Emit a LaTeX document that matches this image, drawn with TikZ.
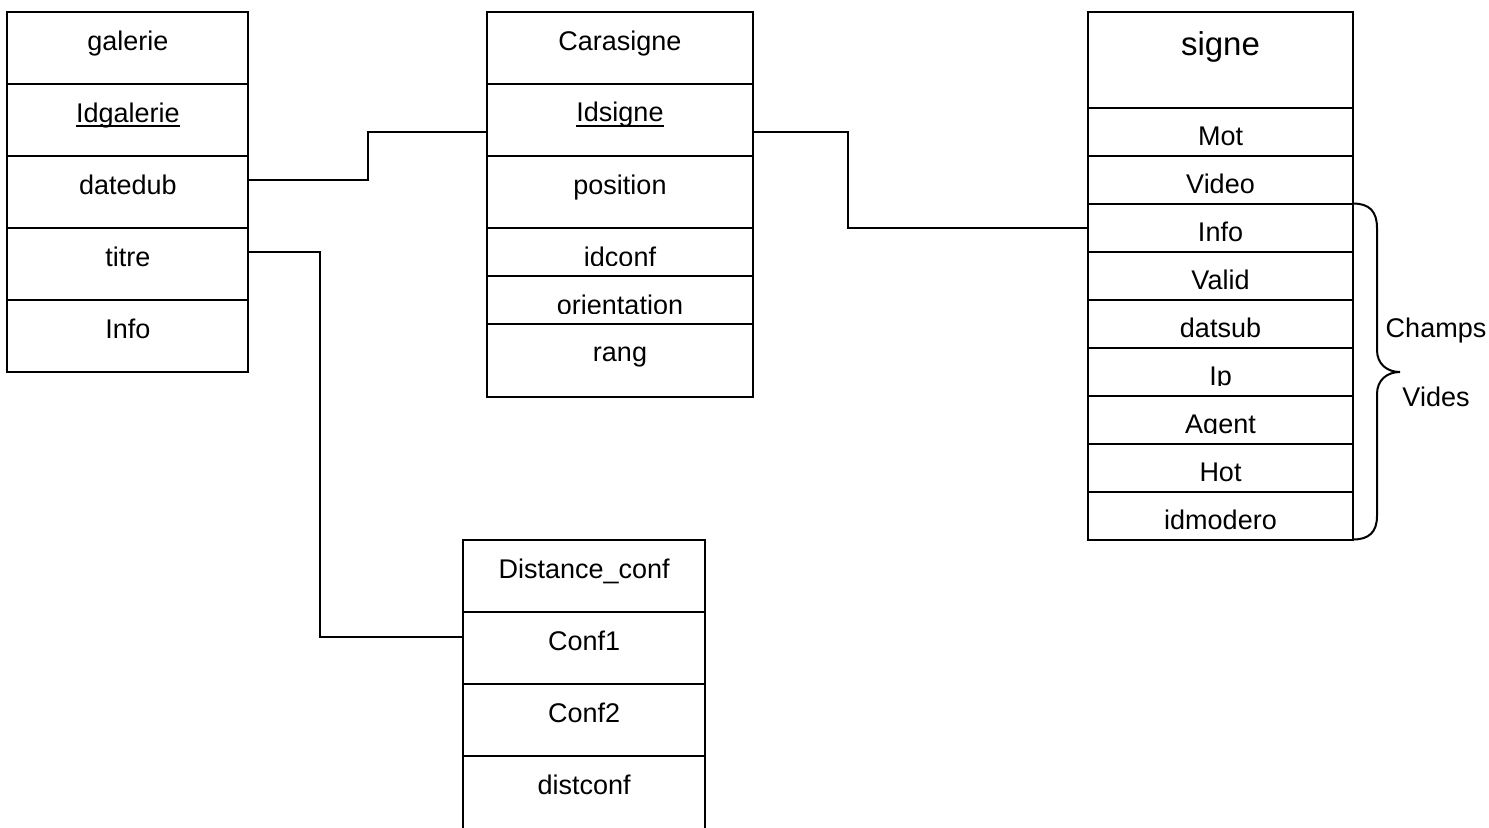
\documentclass[tikz,border=0pt]{standalone}
\usepackage{fontspec}
\setmainfont{Liberation Sans}
\usetikzlibrary{calc}

\tikzset{
  cellbox/.style={draw, line width=1pt, rectangle, inner sep=0pt, outer sep=0pt},
  celltext/.style={anchor=base, inner sep=0pt, font=\fontsize{13.5}{16}\selectfont},
  link/.style={draw, line width=1pt},
  bracepath/.style={draw, line width=1pt},
  note/.style={anchor=base, inner sep=0pt, font=\fontsize{13.5}{16}\selectfont},
}

% key attribute: text with a thin rule just under the baseline
\newcommand\keyname[1]{\setbox0\hbox{#1}\rlap{\rule[-2.6pt]{\wd0}{0.9pt}}\box0}

% table cell: [baseline offset]{name}{x}{top}{width}{height}{text}
% the text is clipped 10.5px above the lower border, as in fixed-height rows
\newcommand\ercell[7][38]{%
  \node[cellbox, minimum width=#5*0.5pt, minimum height=#6*0.5pt, anchor=north west] (#2) at (#3,#4) {};
  \begin{scope}
    \clip (#2.north west) rectangle ($(#2.south east)+(0,-10.5)$);
    \node[celltext] (#2t) at ($(#2.north)+(0,#1)$) {#7};
  \end{scope}}

\begin{document}
\begin{tikzpicture}[x=0.5pt, y=-0.5pt]
  \useasboundingbox (0,0) rectangle (1489,827);

  % galerie
  \ercell{g1}{7.3}{12.3}{241}{71.7}{galerie}
  \ercell{g2}{7.3}{84}{241}{72}{\keyname{Idgalerie}}
  \ercell{g3}{7.3}{156}{241}{72}{datedub}
  \ercell{g4}{7.3}{228}{241}{72}{titre}
  \ercell{g5}{7.3}{300}{241}{71.7}{Info}

  % Carasigne
  \ercell{c1}{487.3}{12.3}{265.4}{71.4}{Carasigne}
  \ercell{c2}{487.3}{83.7}{265.4}{72.3}{\keyname{Idsigne}}
  \ercell{c3}{487.3}{156}{265.4}{72}{position}
  \ercell{c4}{487.3}{228}{265.4}{48}{idconf}
  \ercell{c5}{487.3}{276}{265.4}{47.5}{orientation}
  \ercell{c6}{487.3}{323.5}{265.4}{73.2}{rang}

  % signe
  \ercell[43]{s1}{1088}{12.3}{265}{95.2}{\fontsize{16.5}{20}\selectfont signe}
  \ercell{s2}{1088}{107.5}{265}{48}{Mot}
  \ercell{s3}{1088}{155.5}{265}{48}{Video}
  \ercell{s4}{1088}{203.5}{265}{48}{Info}
  \ercell{s5}{1088}{251.5}{265}{48}{Valid}
  \ercell{s6}{1088}{299.5}{265}{48}{datsub}
  \ercell{s7}{1088}{347.5}{265}{48}{Ip}
  \ercell{s8}{1088}{395.5}{265}{48}{Agent}
  \ercell{s9}{1088}{443.5}{265}{48}{Hot}
  \ercell{s10}{1088}{491.5}{265}{48}{idmodero}

  % Distance_conf (its last row runs past the lower edge)
  \ercell{d1}{463.3}{540}{241.7}{72}{Distance\_conf}
  \ercell{d2}{463.3}{612}{241.7}{72}{Conf1}
  \ercell{d3}{463.3}{684}{241.7}{72}{Conf2}
  \ercell{d4}{463.3}{756}{241.7}{76}{distconf}

  % links between tables
  \coordinate (k1) at ($(c2.west)+(0,12)$);
  \path[link] ($(g3.east)+(0,-12)$) -- ++(120,0) |- (k1);
  \path[link] ($(c2.east)+(0,12)$) -- ++(95.3,0) |- (s4.west);
  \coordinate (k3) at ($(d2.west)+(0,-11)$);
  \path[link] ($(g4.east)+(0,-12)$) -- ++(72,0) |- (k3);

  % brace over the empty fields
  \path[bracepath] (s4.north east)
     .. controls (1369,203.5) and (1377,211) .. (1377,228)
     -- (1377,350)
     .. controls (1377,364) and (1387,372) .. (1400,372)
     .. controls (1387,372) and (1377,380) .. (1377,394)
     -- (1377,516)
     .. controls (1377,532) and (1369,539.5) .. (s10.south east);
  \node[note] (champs) at (1436,337.5) {Champs};
  \node[note] (vides) at (1436,406.5) {Vides};
\end{tikzpicture}
\end{document}
